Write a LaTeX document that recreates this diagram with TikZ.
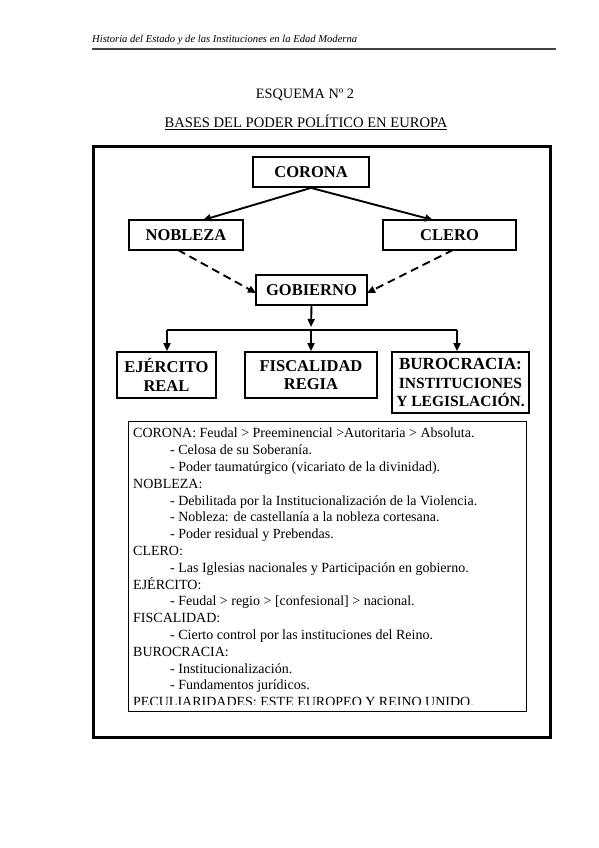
\documentclass[tikz,border=0pt]{standalone}
\usepackage{fontspec}
\setmainfont{Liberation Serif}
\usetikzlibrary{arrows.meta}
\begin{document}
\begin{tikzpicture}[x=1pt,y=-1pt,
  box/.style={draw,line width=1.8pt,inner sep=0pt,align=center,font=\bfseries\fontsize{16.5}{18.5}\selectfont},
  arr/.style={line width=1.9pt,-{Triangle[length=8pt,width=7pt]}},
  darr/.style={line width=1.9pt,dash pattern=on 8pt off 5pt,-{Triangle[length=8pt,width=7pt]}}]
\useasboundingbox[fill=white] (0,0) rectangle (599,848);
% header
\node[anchor=west,inner sep=0pt,font=\itshape\fontsize{10.6}{12}\selectfont] (hdr) at (92,40) {Historia del Estado y de las Instituciones en la Edad Moderna};
\coordinate (hl1) at (92,49);
\coordinate (hl2) at (556,49);
\draw[line width=1.2pt,black!75] (hl1) -- (hl2);
% titles
\node[inner sep=0pt,font=\fontsize{14.3}{16}\selectfont] (t1) at (305,95) {ESQUEMA Nº 2};
\node[inner sep=0pt,font=\fontsize{14.6}{16}\selectfont] (t2) at (306,122) {\underline{BASES DEL PODER POLÍTICO EN EUROPA}};
% outer frame
\draw[line width=3pt] (93,146) rectangle (550,737);
% boxes
\node[box,minimum width=116pt,minimum height=30pt] (corona) at (311,172) {CORONA};
\node[box,minimum width=114pt,minimum height=30pt] (nobleza) at (186,235) {NOBLEZA};
\node[box,minimum width=133pt,minimum height=30pt] (clero) at (449.5,235) {CLERO};
\node[box,minimum width=111pt,minimum height=30pt] (gobierno) at (311.5,290) {GOBIERNO};
\node[box,minimum width=99pt,minimum height=46pt] (ejercito) at (166.5,375) {EJÉRCITO\\REAL};
\node[box,minimum width=132pt,minimum height=46pt] (fiscal) at (311,375) {FISCALIDAD\\REGIA};
\node[box,minimum width=137pt,minimum height=61pt] (buro) at (460.5,382.5) {{\fontsize{17}{20}\selectfont BUROCRACIA:}\\{\fontsize{15.5}{19}\selectfont INSTITUCIONES}\\{\fontsize{15.5}{19}\selectfont Y LEGISLACIÓN.}};
% connectors top
\coordinate (nobT) at (203,220);
\coordinate (cleT) at (433,220);
\draw[arr] (corona.south) -- (nobT);
\draw[arr] (corona.south) -- (cleT);
\coordinate (nobB) at (178,250);
\coordinate (cleB) at (453,250);
\coordinate (gobL) at (256,293);
\coordinate (gobR) at (367,293);
\draw[darr] (nobB) -- (gobL);
\draw[darr] (cleB) -- (gobR);
% connectors bottom
\coordinate (mid) at (311,327);
\coordinate (bl) at (167,330);
\coordinate (br) at (457,330);
\coordinate (bm) at (311,330);
\draw[arr] (gobierno.south) -- (mid);
\draw[line width=1.9pt] (bl) -- (br);
\draw[arr] (bl) -- (bl |- ejercito.north);
\draw[arr] (bm) -- (fiscal.north);
\draw[arr] (br) -- (br |- buro.north);
% text box
\draw[line width=1pt] (128,421) rectangle (526,711);
\begin{scope}
\clip (128.5,421.5) rectangle (525.5,704);
\node[anchor=north west,inner sep=0pt,align=left,font=\fontsize{14}{16.8}\selectfont] (txt) at (133,428) {%
CORONA: Feudal > Preeminencial >Autoritaria > Absoluta.\\
\hspace*{37pt}- Celosa de su Soberanía.\\
\hspace*{37pt}- Poder taumatúrgico (vicariato de la divinidad).\\
NOBLEZA:\\
\hspace*{37pt}- Debilitada por la Institucionalización de la Violencia.\\
\hspace*{37pt}- Nobleza: de castellanía a la nobleza cortesana.\\
\hspace*{37pt}- Poder residual y Prebendas.\\
CLERO:\\
\hspace*{37pt}- Las Iglesias nacionales y Participación en gobierno.\\
EJÉRCITO:\\
\hspace*{37pt}- Feudal > regio > [confesional] > nacional.\\
FISCALIDAD:\\
\hspace*{37pt}- Cierto control por las instituciones del Reino.\\
BUROCRACIA:\\
\hspace*{37pt}- Institucionalización.\\
\hspace*{37pt}- Fundamentos jurídicos.\\
PECULIARIDADES: ESTE EUROPEO Y REINO UNIDO.};
\end{scope}
\end{tikzpicture}
\end{document}
